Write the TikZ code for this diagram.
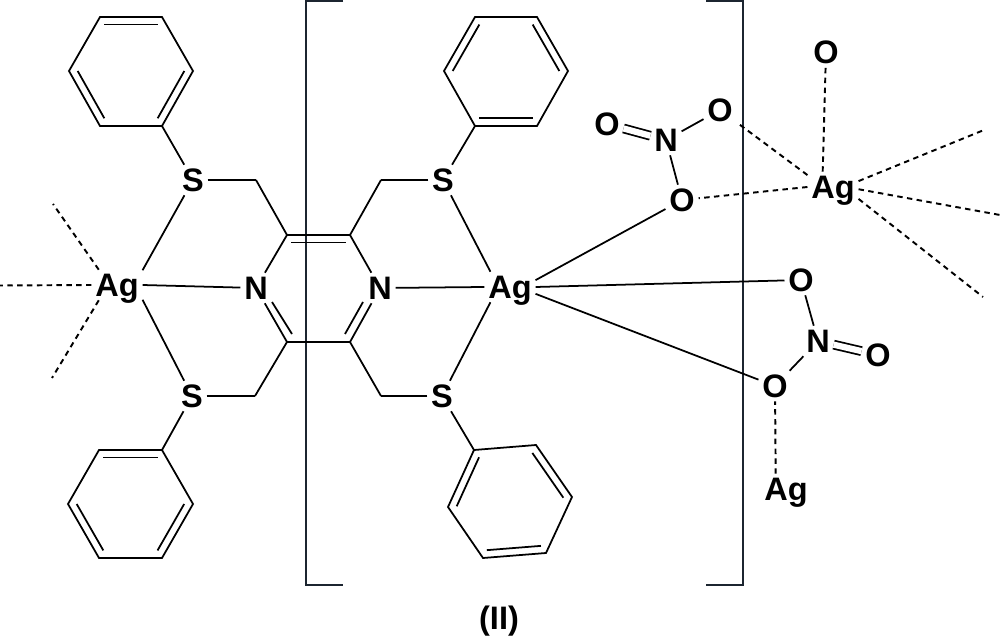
\documentclass[tikz,border=0pt]{standalone}
\usepackage{fontspec}
\setsansfont{Liberation Sans}
\usepackage{xcolor}
\usetikzlibrary{calc}
\definecolor{bracketblue}{HTML}{1C2530}

\newcommand{\innerbond}[3]{\draw ($(#1)!0.14!(#3)$) -- ($(#2)!0.14!(#3)$);}

\begin{document}
\begin{tikzpicture}[x=0.02cm,y=-0.02cm,-,line width=1pt,line join=miter,
                    atom/.style={font=\sffamily\bfseries\fontsize{18.5}{18.5}\selectfont,inner sep=0.06cm,text height=13pt,text depth=0pt},
                    caption node/.style={font=\sffamily\bfseries\fontsize{18.5}{18.5}\selectfont,inner sep=0pt},
                    dashbond/.style={dash pattern=on 3.1pt off 2.5pt,line width=1.1pt},
                    twobond/.style={double,double distance=0.125cm,line width=1pt},
                    bracket/.style={draw=bracketblue,line width=1pt}]

  \useasboundingbox (0,0) rectangle (1000,638);

  % atoms
  \node[atom] (Ag1) at (117,285) {Ag};
  \node[atom] (Ag2) at (510,287) {Ag};
  \node[atom] (Ag3) at (833,187) {Ag};
  \node[atom] (Ag4) at (786,489) {Ag};
  \node[atom] (N1) at (256,288) {N};
  \node[atom] (N2) at (380,288) {N};
  \node[atom] (S1) at (193,180) {S};
  \node[atom] (S2) at (443,180) {S};
  \node[atom] (S3) at (192,396) {S};
  \node[atom] (S4) at (442,396) {S};
  \node[atom] (N3) at (666,140) {N};
  \node[atom] (N4) at (818,341) {N};
  \node[atom] (O1) at (607,124) {O};
  \node[atom] (O2) at (720,110) {O};
  \node[atom] (O3) at (682,200) {O};
  \node[atom] (O4) at (826,52) {O};
  \node[atom] (O5) at (801,280) {O};
  \node[atom] (O6) at (878,355) {O};
  \node[atom] (O7) at (775,386) {O};
  \node[caption node] (cap) at (499,621) {(II)};

  % middle ring
  \coordinate (p1) at (287,235);
  \coordinate (p2) at (350,235);
  \coordinate (p3) at (350,342);
  \coordinate (p4) at (287,342);
  \coordinate (pc) at (318,288);
  \coordinate (m1) at (256,180);
  \coordinate (m2) at (381,180);
  \coordinate (m3) at (255,396);
  \coordinate (m4) at (381,396);
  \coordinate (q1) at (272,302);
  \coordinate (q2) at (292,334);
  \coordinate (q3) at (363,302);
  \coordinate (q4) at (345,334);

  % phenyl rings
  \coordinate (a1) at (100,17);
  \coordinate (a2) at (162,17);
  \coordinate (a3) at (193,71);
  \coordinate (a4) at (162,126);
  \coordinate (a5) at (100,126);
  \coordinate (a6) at (69,71);
  \coordinate (ac) at (131,71);

  \coordinate (b1) at (475,17);
  \coordinate (b2) at (537,17);
  \coordinate (b3) at (568,71);
  \coordinate (b4) at (537,126);
  \coordinate (b5) at (475,126);
  \coordinate (b6) at (444,71);
  \coordinate (bc) at (506,71);

  \coordinate (c1) at (99,450);
  \coordinate (c2) at (162,450);
  \coordinate (c3) at (193,504);
  \coordinate (c4) at (162,558);
  \coordinate (c5) at (99,558);
  \coordinate (c6) at (68,504);
  \coordinate (cc) at (130,504);

  \coordinate (d1) at (474,450);
  \coordinate (d2) at (536,445);
  \coordinate (d3) at (572,497);
  \coordinate (d4) at (546,553);
  \coordinate (d5) at (483,558);
  \coordinate (d6) at (448,507);
  \coordinate (dc) at (510,502);

  % free ends of the dashed bonds
  \coordinate (e1) at (0,285.5);
  \coordinate (e2) at (53,204);
  \coordinate (e3) at (52,378);
  \coordinate (e4) at (984,130);
  \coordinate (e5) at (1000,215);
  \coordinate (e6) at (983,297);

  % brackets
  \coordinate (l1) at (343,1);
  \coordinate (l2) at (306,1);
  \coordinate (l3) at (306,585);
  \coordinate (l4) at (343,585);
  \coordinate (r1) at (706,1);
  \coordinate (r2) at (743,1);
  \coordinate (r3) at (743,585);
  \coordinate (r4) at (706,585);
  \draw[bracket] (l1) -- (l2) -- (l3) -- (l4);
  \draw[bracket] (r1) -- (r2) -- (r3) -- (r4);

  \draw (a1) -- (a2) -- (a3) -- (a4) -- (a5) -- (a6) -- cycle;
  \draw (b1) -- (b2) -- (b3) -- (b4) -- (b5) -- (b6) -- cycle;
  \draw (c1) -- (c2) -- (c3) -- (c4) -- (c5) -- (c6) -- cycle;
  \draw (d1) -- (d2) -- (d3) -- (d4) -- (d5) -- (d6) -- cycle;

  \innerbond{a1}{a2}{ac}
  \innerbond{a3}{a4}{ac}
  \innerbond{a5}{a6}{ac}
  \innerbond{b2}{b3}{bc}
  \innerbond{b4}{b5}{bc}
  \innerbond{b6}{b1}{bc}
  \innerbond{c1}{c2}{cc}
  \innerbond{c3}{c4}{cc}
  \innerbond{c5}{c6}{cc}
  \innerbond{d2}{d3}{dc}
  \innerbond{d4}{d5}{dc}
  \innerbond{d6}{d1}{dc}
  \innerbond{p1}{p2}{pc}

  \path
  (p1) edge (p2)
       edge (N1)
       edge (m1)
  (p2) edge (N2)
       edge (m2)
  (p3) edge (p4)
       edge (N2)
       edge (m4)
  (p4) edge (N1)
       edge (m3)
  (q1) edge (q2)
  (q3) edge (q4)
  (S1) edge (m1)
       edge (a4)
       edge (Ag1.30)
  (S2) edge (m2)
       edge (b5)
       edge (Ag2.142)
  (S3) edge (m3)
       edge (c2)
       edge (Ag1.-30)
  (S4) edge (m4)
       edge (d1)
       edge (Ag2.-142)
  (N1) edge (Ag1.east)
  (N2) edge (Ag2.west)
  (Ag2.15) edge (O3)
  (Ag2.east) edge (O5)
  (Ag2.-15) edge (O7)
  (N3) edge (O2)
       edge (O3)
  (N4) edge (O5)
       edge (O7);

  \draw[twobond] (O1) -- (N3);
  \draw[twobond] (N4) -- (O6);

  \path[dashbond]
  (Ag1.west) edge (e1)
  (Ag1.140) edge (e2)
  (Ag1.-140) edge (e3)
  (Ag3.124) edge (O4)
  (Ag3.155) edge (O2)
  (Ag3.west) edge (O3)
  (Ag3.13) edge (e4)
  (Ag3.-5) edge (e5)
  (Ag3.-25) edge (e6)
  (Ag4.124) edge (O7);

\end{tikzpicture}
\end{document}
